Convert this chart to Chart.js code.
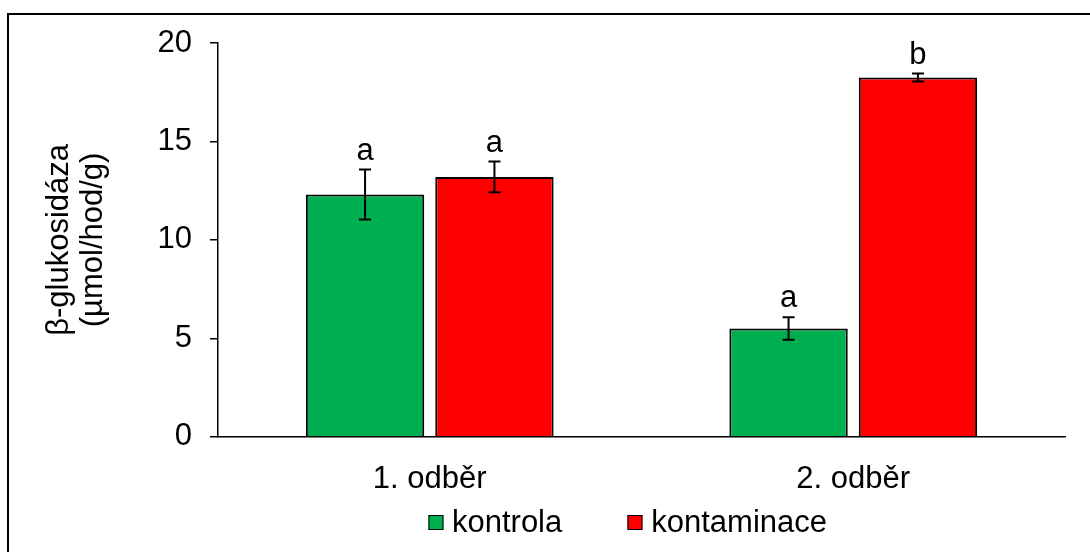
<!DOCTYPE html>
<html>
<head>
<meta charset="utf-8">
<script src="https://cdn.jsdelivr.net/npm/chart.js@4"></script>
<style>
  html, body { margin: 0; padding: 0; background: #fff; overflow: hidden; }
  #wrap { position: relative; width: 1090px; height: 552px; }
  #frame { position: absolute; left: 7px; top: 13px; width: 2000px; height: 2000px;
           border-left: 2px solid #000; border-top: 2px solid #000; }
  canvas { position: absolute; left: 0; top: 0; }
  #legend { position: absolute; top: 504px; height: 36px; display: flex; align-items: center;
            transform: translateX(-50%); white-space: nowrap;
            font: 31px 'Liberation Sans', Arial, sans-serif; color: #000; line-height: 36px; }
  #legend .item { display: flex; align-items: center; }
  #legend .item + .item { margin-left: 65px; }
  #legend .box { width: 13px; height: 13px; border: 1.5px solid #000; margin-right: 9px; }
</style>
</head>
<body>
<div id="wrap">
  <div id="frame"></div>
  <canvas id="chart" width="1090" height="552"></canvas>
  <div id="legend"></div>
</div>
<script>
// data
const categories = ["1. odběr", "2. odběr"];
const kontrola = [12.3, 5.5];
const kontaminace = [13.2, 18.25];
const kontrolaErr = [1.27, 0.57];
const kontaminaceErr = [0.78, 0.2];
const kontrolaLetters = ["a", "a"];
const kontaminaceLetters = ["a", "b"];
const yTicks = [0, 5, 10, 15, 20];

Chart.defaults.font.family = "'Liberation Sans', Arial, sans-serif";
Chart.defaults.font.size = 31;
Chart.defaults.color = "#000";

// error bars + letters above them
const errorBars = {
    id: "errorBars",
    afterDatasetsDraw(chart) {
        const ctx = chart.ctx;
        const y = chart.scales.y;
        chart.data.datasets.forEach((ds, i) => {
            const meta = chart.getDatasetMeta(i);
            meta.data.forEach((bar, j) => {
                const v = ds.data[j];
                const e = ds.errors[j];
                const top = y.getPixelForValue(v + e);
                const bot = y.getPixelForValue(v - e);
                ctx.save();
                ctx.strokeStyle = "#000";
                ctx.lineWidth = 2;
                ctx.beginPath();
                ctx.moveTo(bar.x, top);
                ctx.lineTo(bar.x, bot);
                ctx.moveTo(bar.x - 6, top);
                ctx.lineTo(bar.x + 6, top);
                ctx.moveTo(bar.x - 6, bot);
                ctx.lineTo(bar.x + 6, bot);
                ctx.stroke();
                ctx.fillStyle = "#000";
                ctx.font = "31px 'Liberation Sans', Arial, sans-serif";
                ctx.textAlign = "center";
                ctx.textBaseline = "alphabetic";
                ctx.fillText(ds.letters[j], bar.x, top - 10);
                ctx.restore();
            });
        });
    }
};

const chart = new Chart(document.getElementById("chart"), {
    type: "bar",
    data: {
        labels: categories,
        datasets: [{
            label: "kontrola",
            data: kontrola,
            errors: kontrolaErr,
            letters: kontrolaLetters,
            backgroundColor: "#00B050",
            borderColor: "#000",
            borderWidth: 2,
            categoryPercentage: 0.611,
            barPercentage: 0.915
        }, {
            label: "kontaminace",
            data: kontaminace,
            errors: kontaminaceErr,
            letters: kontaminaceLetters,
            backgroundColor: "#FF0000",
            borderColor: "#000",
            borderWidth: 2,
            categoryPercentage: 0.611,
            barPercentage: 0.915
        }]
    },
    options: {
        responsive: false,
        animation: false,
        layout: { padding: { left: 10, top: 43, right: 25, bottom: 30 } },
        plugins: {
            tooltip: { enabled: false },
            legend: { display: false }
        },
        scales: {
            x: {
                grid: { display: false, drawTicks: false },
                border: { display: true, color: "#000", width: 1.5 },
                ticks: { padding: 24, font: { size: 31 } }
            },
            y: {
                min: 0,
                max: 20,
                afterBuildTicks(scale) { scale.ticks = yTicks.map(v => ({ value: v })); },
                grid: { drawOnChartArea: false, drawTicks: true, tickLength: 8, color: "#000", lineWidth: 1.5 },
                border: { display: true, color: "#000", width: 1.5 },
                ticks: { padding: 18, font: { size: 31 } },
                title: {
                    display: true,
                    text: ["β-glukosidáza", "(µmol/hod/g)"],
                    font: { size: 31, lineHeight: 1.1 },
                    padding: { top: 32, bottom: 0 }
                },
                afterFit(scale) { scale.width = 208; }
            }
        }
    },
    plugins: [errorBars]
});

// html legend, centred a little left of the plot centre like the original
const legendEl = document.getElementById("legend");
chart.data.datasets.forEach(ds => {
    const item = document.createElement("span");
    item.className = "item";
    const box = document.createElement("span");
    box.className = "box";
    box.style.background = ds.backgroundColor;
    item.appendChild(box);
    item.appendChild(document.createTextNode(ds.label));
    legendEl.appendChild(item);
});
const ca = chart.chartArea;
legendEl.style.left = ((ca.left + ca.right) / 2 - 14) + "px";
</script>
</body>
</html>
